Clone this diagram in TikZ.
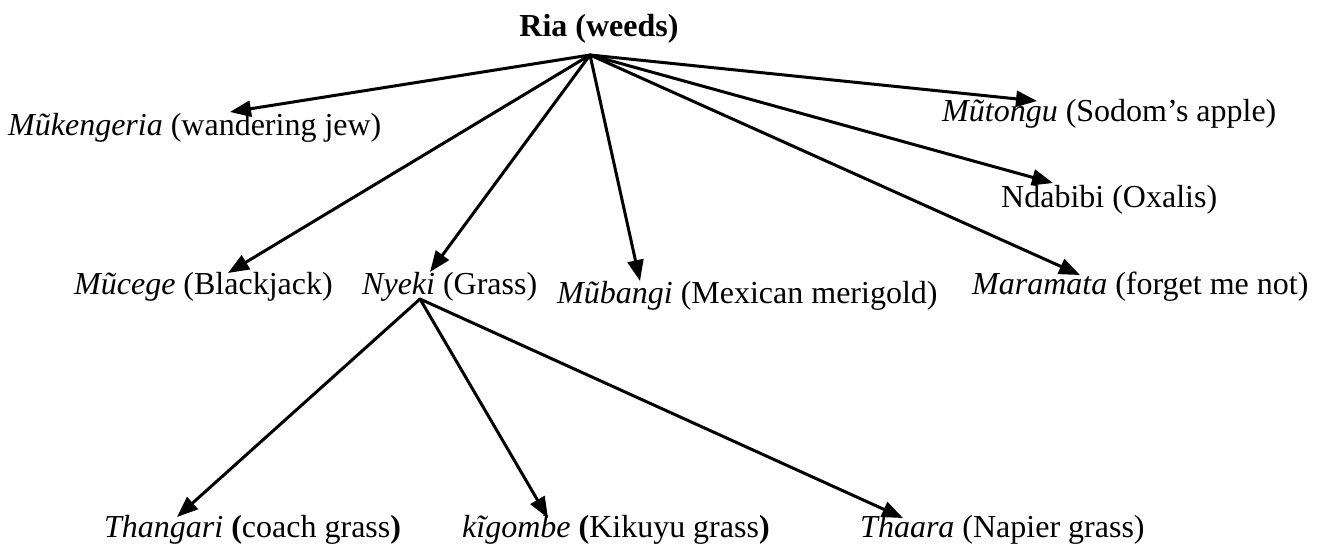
\documentclass[tikz,border=0pt]{standalone}
\usepackage{fontspec}
\setmainfont{Liberation Serif}
\usetikzlibrary{arrows.meta}
\begin{document}
\begin{tikzpicture}[x=1pt,y=-1pt,
  lbl/.style={anchor=base west,inner sep=0pt,font=\fontsize{32}{38}\selectfont},
  link/.style={line width=3pt,line cap=round,-{Triangle[length=21pt,width=16pt]}}]
\useasboundingbox (0,0) rectangle (1321,552);

% labels
\node[lbl,anchor=base] (root) at (599,36) {\textbf{Ria (weeds)}};
\node[lbl] (muk) at (8,135)    {\textit{Mũkengeria} (wandering jew)};
\node[lbl] (mut) at (942,121)  {\textit{Mũtongu} (Sodom’s apple)};
\node[lbl] (nda) at (1001,207) {Ndabibi (Oxalis)};
\node[lbl] (muc) at (74,294)   {\textit{Mũcege} (Blackjack)};
\node[lbl] (nye) at (362,294)  {\textit{Nyeki} (Grass)};
\node[lbl] (mub) at (557,303)  {\textit{Mũbangi} (Mexican merigold)};
\node[lbl] (mar) at (972,294)  {\textit{Maramata} (forget me not)};
\node[lbl] (tha) at (104,537)  {\textit{Thangari} \textbf{(}coach grass\textbf{)}};
\node[lbl] (kig) at (462,537)  {\textit{kĩgombe} \textbf{(}Kikuyu grass\textbf{)}};
\node[lbl] (thr) at (860,537)  {\textit{Thaara} (Napier grass)};

% branching points and arrow ends
\coordinate (hub)  at (590,55);
\coordinate (nhub) at (420,299);
\coordinate (e-muk) at (230,112);
\coordinate (e-mut) at (1037,101);
\coordinate (e-nda) at (1053,183);
\coordinate (e-muc) at (228,273);
\coordinate (e-nye) at (430,272);
\coordinate (e-mub) at (640,281);
\coordinate (e-mar) at (1080,275);
\coordinate (e-tha) at (177,517);
\coordinate (e-kig) at (548,518);
\coordinate (e-thr) at (903,518);

% connectors
\foreach \t in {muk,mut,nda,muc,nye,mub,mar}
  \draw[link] (hub) -- (e-\t);
\foreach \t in {tha,kig,thr}
  \draw[link] (nhub) -- (e-\t);
\end{tikzpicture}
\end{document}
